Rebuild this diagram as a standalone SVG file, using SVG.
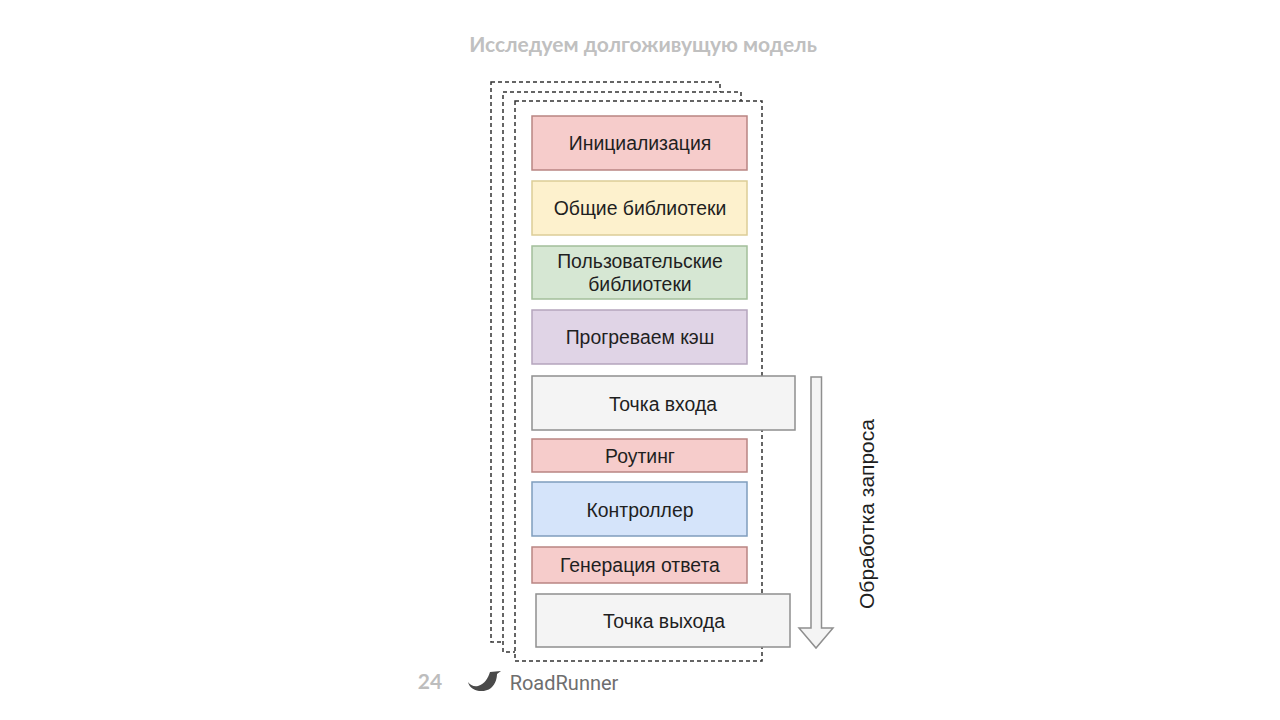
<svg xmlns="http://www.w3.org/2000/svg" width="1280" height="720" viewBox="0 0 1280 720">
<style>
text{font-family:"Liberation Sans",Arial,sans-serif;fill:#1f1f1f;text-anchor:middle}
.l{font-size:19.400px}
.d{fill:#fff;stroke:#333;stroke-width:1.5;stroke-dasharray:4 3}
.b{stroke-width:1.5}
.red{fill:#f6cccb;stroke:#b98583}
.yel{fill:#fdf1cd;stroke:#dccd97}
.grn{fill:#d6e7d3;stroke:#a3bf9a}
.pur{fill:#e0d4e6;stroke:#b5a5bd}
.gry{fill:#f4f4f4;stroke:#8f8f8f}
.blu{fill:#d5e4fa;stroke:#7f9dbd}
</style>
<rect width="1280" height="720" fill="#fff"/>
<text x="643" y="51.500" style="font-family:Lato,'Open Sans',sans-serif;font-weight:700;fill:#c0c0c0" font-size="21">Исследуем долгоживущую модель</text>
<g id="frames">
<rect class="d" x="491" y="82" width="229" height="560"/>
<rect class="d" x="503" y="92" width="238" height="560"/>
<rect class="d" x="515" y="101" width="247" height="560"/>
</g>
<g id="init"><rect class="b red" x="532" y="116" width="215" height="54"/><text class="l" x="640" y="150">Инициализация</text></g>
<g id="common"><rect class="b yel" x="532" y="181" width="215" height="54"/><text class="l" x="640" y="215">Общие библиотеки</text></g>
<g id="user"><rect class="b grn" x="532" y="246" width="215" height="53"/><text class="l" x="640" y="268">Пользовательские</text><text class="l" x="640" y="291">библиотеки</text></g>
<g id="cache"><rect class="b pur" x="532" y="310" width="215" height="54"/><text class="l" x="640" y="344">Прогреваем кэш</text></g>
<g id="entry"><rect class="b gry" x="532" y="376" width="263" height="54"/><text class="l" x="663" y="411">Точка входа</text></g>
<g id="routing"><rect class="b red" x="532" y="439" width="215" height="33"/><text class="l" x="640" y="463">Роутинг</text></g>
<g id="controller"><rect class="b blu" x="532" y="482" width="215" height="54"/><text class="l" x="640" y="517">Контроллер</text></g>
<g id="response"><rect class="b red" x="532" y="547" width="215" height="36"/><text class="l" x="640" y="572">Генерация ответа</text></g>
<g id="exit"><rect class="b gry" x="536" y="594" width="254" height="53"/><text class="l" x="664" y="627.500">Точка выхода</text></g>
<g id="connectors">
<path d="M811 377H821.500V628H833L816 648L799 628H811Z" fill="#f4f4f4" stroke="#8f8f8f" stroke-width="1.500"/>
</g>
<text transform="translate(874 514) rotate(-90)" font-size="21">Обработка запроса</text>
<g id="footer">
<text x="430" y="689" style="font-family:Lato,sans-serif;font-weight:700;fill:#bdbdbd" font-size="21">24</text>
<path d="M468 682C470 691 483 694 491 688C496 684 497 677 497 674L501 671L490 672C488 678 485 684 478 686C474 687 470 685 468 682Z" fill="#4a4a4a"/>
<text x="564" y="689.500" style="font-family:Roboto,sans-serif;fill:#6e6e6e" font-size="20">RoadRunner</text>
</g>
</svg>
